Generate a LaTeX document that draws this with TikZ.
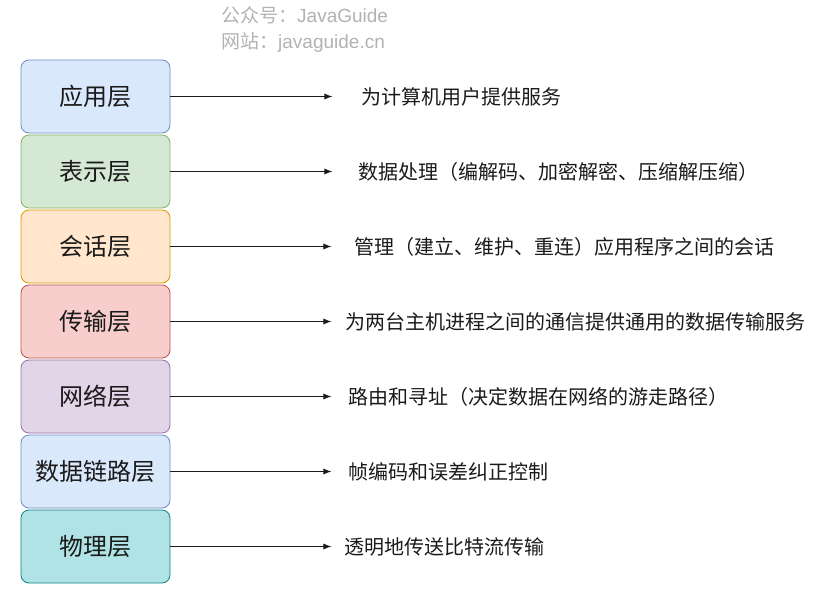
\documentclass[tikz,border=0pt]{standalone}
\usepackage{fontspec}
\setmainfont{Noto Sans CJK SC}
\newfontfamily\wmlatin{Liberation Sans}
\usepackage{tikz}
\usetikzlibrary{positioning,arrows.meta}
\usepackage{xcolor}
\definecolor{appfill}{RGB}{218,232,252}
\definecolor{appline}{RGB}{108,142,191}
\definecolor{presfill}{RGB}{213,232,212}
\definecolor{presline}{RGB}{130,179,102}
\definecolor{sessfill}{RGB}{255,230,204}
\definecolor{sessline}{RGB}{215,155,0}
\definecolor{transfill}{RGB}{248,206,204}
\definecolor{transline}{RGB}{184,84,80}
\definecolor{netfill}{RGB}{225,213,231}
\definecolor{netline}{RGB}{150,115,166}
\definecolor{physfill}{RGB}{176,227,230}
\definecolor{physline}{RGB}{14,128,136}
\definecolor{wmgray}{RGB}{178,178,178}
\definecolor{inkblack}{RGB}{26,26,26}

\begin{document}
\begin{tikzpicture}[x=1pt, y=-1pt,
  layer/.style={draw, line width=0.8pt, rounded corners=8pt, minimum width=149pt,
    minimum height=73pt, inner sep=0pt, text=inkblack, font=\fontsize{24}{28}\selectfont},
  desc/.style={inner sep=0pt, text=inkblack, font=\fontsize{20}{24}\selectfont},
  link/.style={-{Latex[length=8pt,width=6pt]}, line width=0.8pt, inkblack},
  node distance=1.2pt]
\useasboundingbox (0,0) rectangle (814,596);

% Watermark
\node[anchor=west, inner sep=0pt, text=wmgray, font=\fontsize{19}{23}\selectfont] (wmone) at (221,15) {公众号：{\wmlatin JavaGuide}};
\node[anchor=west, inner sep=0pt, text=wmgray, font=\fontsize{19}{23}\selectfont] (wmtwo) at (221,42) {网站：{\wmlatin javaguide.cn}};

% Layer stack
\node[layer, fill=appfill, draw=appline] (app) at (95.5,96.5) {应用层};
\node[layer, fill=presfill, draw=presline, below=of app] (pres) {表示层};
\node[layer, fill=sessfill, draw=sessline, below=of pres] (sess) {会话层};
\node[layer, fill=transfill, draw=transline, below=of sess] (trans) {传输层};
\node[layer, fill=netfill, draw=netline, below=of trans] (net) {网络层};
\node[layer, fill=appfill, draw=appline, below=of net] (link) {数据链路层};
\node[layer, fill=physfill, draw=physline, below=of link] (phys) {物理层};

% Arrow ends
\coordinate[right=162pt of app] (append);
\coordinate[right=162pt of pres] (presend);
\coordinate[right=161pt of sess] (sessend);
\coordinate[right=161pt of trans] (transend);
\coordinate[right=161pt of net] (netend);
\coordinate[right=161pt of link] (linkend);
\coordinate[right=161pt of phys] (physend);

% Descriptions
\node[desc, right=29pt of append] (appdesc) {为计算机用户提供服务};
\node[desc, right=26pt of presend] (presdesc) {数据处理（编解码、加密解密、压缩解压缩）};
\node[desc, right=23pt of sessend] (sessdesc) {管理（建立、维护、重连）应用程序之间的会话};
\node[desc, right=14pt of transend] (transdesc) {为两台主机进程之间的通信提供通用的数据传输服务};
\node[desc, right=17pt of netend] (netdesc) {路由和寻址（决定数据在网络的游走路径）};
\node[desc, right=17pt of linkend] (linkdesc) {帧编码和误差纠正控制};
\node[desc, right=13pt of physend] (physdesc) {透明地传送比特流传输};

% Arrows
\draw[link] (app) -- (append);
\draw[link] (pres) -- (presend);
\draw[link] (sess) -- (sessend);
\draw[link] (trans) -- (transend);
\draw[link] (net) -- (netend);
\draw[link] (link) -- (linkend);
\draw[link] (phys) -- (physend);
\end{tikzpicture}
\end{document}
